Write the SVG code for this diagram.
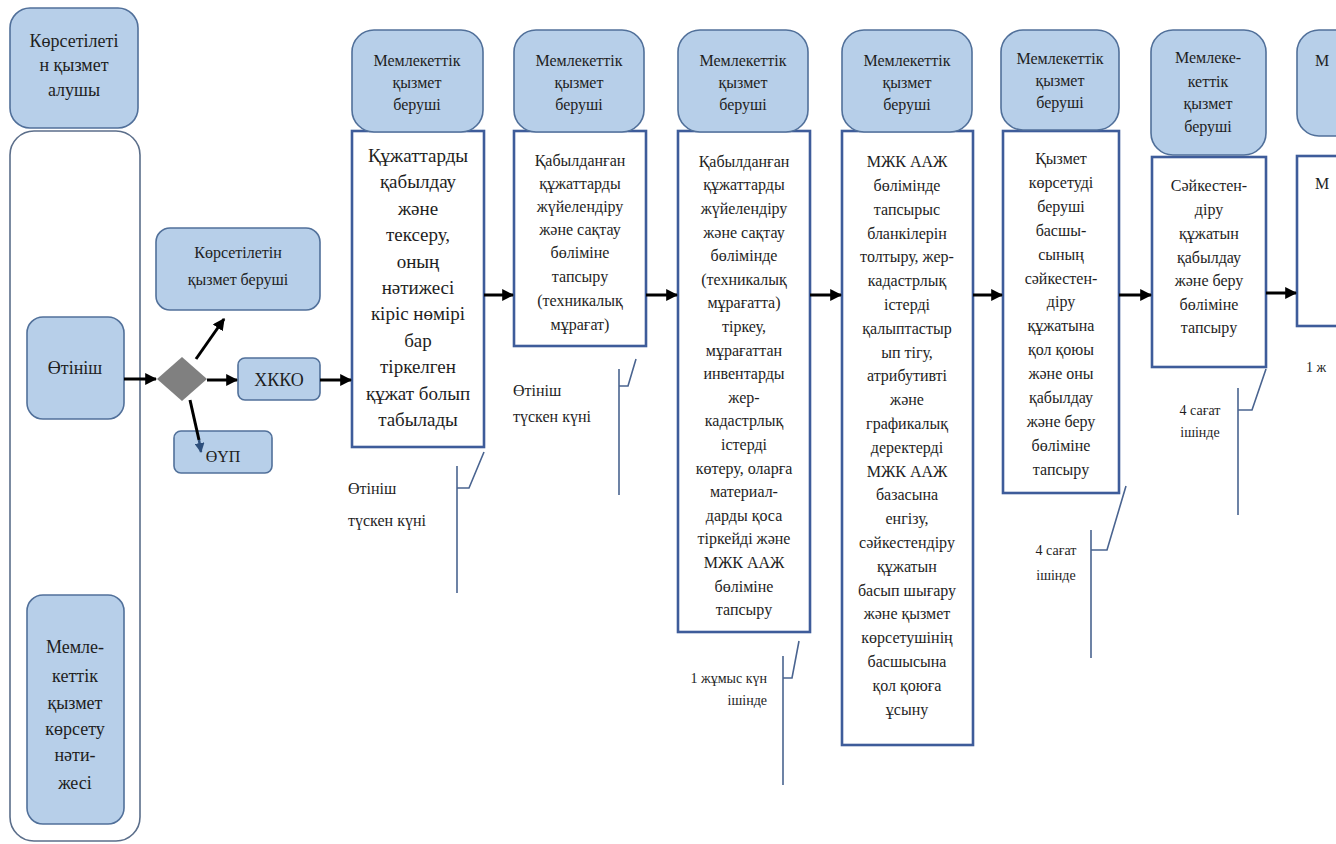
<svg xmlns="http://www.w3.org/2000/svg" width="1336" height="844" viewBox="0 0 1336 844">
  <defs>
    <marker id="arr" viewBox="0 0 10 10" refX="9" refY="5" markerWidth="4" markerHeight="4" orient="auto" markerUnits="strokeWidth">
      <path d="M0,0 L10,5 L0,10 z" fill="#000"/>
    </marker>
    <marker id="arrBlue" viewBox="0 0 10 10" refX="9" refY="5" markerWidth="4" markerHeight="4" orient="auto" markerUnits="strokeWidth">
      <path d="M0,0 L10,5 L0,10 z" fill="#2d4f7c"/>
    </marker>
    <style>
      text { font-family: "Liberation Serif", "DejaVu Serif", serif; fill: #1e1e1e; text-anchor: middle; }
      .pill { fill: #b7cfe9; stroke: #51709a; stroke-width: 1.6; }
      .lane { fill: #ffffff; stroke: #5b6e8a; stroke-width: 1.6; }
      .proc { fill: #ffffff; stroke: #3e5c9a; stroke-width: 2.6; }
      .hdr { font-size: 16px; }
      .lbl { font-size: 18px; }
      .big { font-size: 19px; }
      .body { font-size: 16px; }
      .note { font-size: 16px; text-anchor: start; }
      .small { font-size: 14px; }
      .flow { stroke: #000; stroke-width: 3; fill: none; marker-end: url(#arr); }
      .callout { stroke: #4a6490; stroke-width: 1.6; fill: none; }
    </style>
  </defs>

  <!-- service recipient lane -->
  <g id="lane-recipient">
    <rect class="lane" x="10" y="131" width="130" height="710" rx="24"/>
  </g>
  <g id="recipient-header">
    <rect class="pill" x="10" y="8" width="128" height="120" rx="20"/>
    <text class="lbl" x="74" y="47">Көрсетілеті</text>
    <text class="lbl" x="74" y="71">н қызмет</text>
    <text class="lbl" x="74" y="96">алушы</text>
  </g>
  <g id="application">
    <rect class="pill" x="27" y="317" width="97" height="102" rx="16"/>
    <text class="lbl" x="75" y="374">Өтініш</text>
  </g>
  <g id="result">
    <rect class="pill" x="27" y="595" width="97" height="229" rx="16"/>
    <text class="lbl" x="75" y="653">Мемле-</text>
    <text class="lbl" x="75" y="682">кеттік</text>
    <text class="lbl" x="75" y="709">қызмет</text>
    <text class="lbl" x="75" y="735">көрсету</text>
    <text class="lbl" x="75" y="761">нәти-</text>
    <text class="lbl" x="75" y="789">жесі</text>
  </g>

  <!-- branching -->
  <g id="decision">
    <polygon points="182,357 207,379 182,401 157,379" fill="#808080"/>
  </g>
  <g id="provider-box">
    <rect class="pill" x="156" y="228" width="164" height="82" rx="14"/>
    <text class="body" x="238" y="258">Көрсетілетін</text>
    <text class="body" x="238" y="285">қызмет беруші</text>
  </g>
  <g id="hkko">
    <rect class="pill" x="238" y="358" width="82" height="42" rx="7"/>
    <text class="lbl" x="279" y="386">ХККО</text>
  </g>
  <g id="oup">
    <rect class="pill" x="174" y="431" width="98" height="42" rx="7"/>
    <text class="body" x="223" y="462">ӨҮП</text>
  </g>

  <!-- step 1 -->
  <g id="step1">
    <rect class="proc" x="352" y="131" width="132" height="316"/>
    <rect class="pill" x="352" y="30" width="131" height="102" rx="22"/>
    <text class="hdr" x="417" y="66">Мемлекеттік</text>
    <text class="hdr" x="417" y="88">қызмет</text>
    <text class="hdr" x="417" y="110">беруші</text>
    <text class="big" x="418" y="162">Құжаттарды</text>
    <text class="big" x="418" y="188">қабылдау</text>
    <text class="big" x="418" y="215">және</text>
    <text class="big" x="418" y="241">тексеру,</text>
    <text class="big" x="418" y="268">оның</text>
    <text class="big" x="418" y="294">нәтижесі</text>
    <text class="big" x="418" y="320">кіріс нөмірі</text>
    <text class="big" x="418" y="347">бар</text>
    <text class="big" x="418" y="373">тіркелген</text>
    <text class="big" x="418" y="400">құжат болып</text>
    <text class="big" x="418" y="426">табылады</text>
  </g>

  <!-- step 2 -->
  <g id="step2">
    <rect class="proc" x="514" y="131" width="132" height="215"/>
    <rect class="pill" x="514" y="30" width="130" height="102" rx="22"/>
    <text class="hdr" x="579" y="66">Мемлекеттік</text>
    <text class="hdr" x="579" y="88">қызмет</text>
    <text class="hdr" x="579" y="110">беруші</text>
    <text class="body" x="580" y="166">Қабылданған</text>
    <text class="body" x="580" y="189">құжаттарды</text>
    <text class="body" x="580" y="212">жүйелендіру</text>
    <text class="body" x="580" y="235">және сақтау</text>
    <text class="body" x="580" y="258">бөліміне</text>
    <text class="body" x="580" y="282">тапсыру</text>
    <text class="body" x="580" y="306">(техникалық</text>
    <text class="body" x="580" y="330">мұрағат)</text>
  </g>

  <!-- step 3 -->
  <g id="step3">
    <rect class="proc" x="678" y="131" width="132" height="501"/>
    <rect class="pill" x="678" y="30" width="130" height="102" rx="22"/>
    <text class="hdr" x="743" y="66">Мемлекеттік</text>
    <text class="hdr" x="743" y="88">қызмет</text>
    <text class="hdr" x="743" y="110">беруші</text>
    <text class="body" x="744" y="167">Қабылданған</text>
    <text class="body" x="744" y="190">құжаттарды</text>
    <text class="body" x="744" y="214">жүйелендіру</text>
    <text class="body" x="744" y="238">және сақтау</text>
    <text class="body" x="744" y="261">бөлімінде</text>
    <text class="body" x="744" y="285">(техникалық</text>
    <text class="body" x="744" y="308">мұрағатта)</text>
    <text class="body" x="744" y="332">тіркеу,</text>
    <text class="body" x="744" y="356">мұрағаттан</text>
    <text class="body" x="744" y="379">инвентарды</text>
    <text class="body" x="744" y="403">жер-</text>
    <text class="body" x="744" y="426">кадастрлық</text>
    <text class="body" x="744" y="450">істерді</text>
    <text class="body" x="744" y="474">көтеру, оларға</text>
    <text class="body" x="744" y="497">материал-</text>
    <text class="body" x="744" y="521">дарды қоса</text>
    <text class="body" x="744" y="544">тіркейді және</text>
    <text class="body" x="744" y="568">МЖК ААЖ</text>
    <text class="body" x="744" y="592">бөліміне</text>
    <text class="body" x="744" y="615">тапсыру</text>
  </g>

  <!-- step 4 -->
  <g id="step4">
    <rect class="proc" x="842" y="131" width="131" height="614"/>
    <rect class="pill" x="842" y="30" width="130" height="102" rx="22"/>
    <text class="hdr" x="907" y="66">Мемлекеттік</text>
    <text class="hdr" x="907" y="88">қызмет</text>
    <text class="hdr" x="907" y="110">беруші</text>
    <text class="body" x="907" y="167">МЖК ААЖ</text>
    <text class="body" x="907" y="191">бөлімінде</text>
    <text class="body" x="907" y="215">тапсырыс</text>
    <text class="body" x="907" y="239">бланкілерін</text>
    <text class="body" x="907" y="262">толтыру, жер-</text>
    <text class="body" x="907" y="286">кадастрлық</text>
    <text class="body" x="907" y="310">істерді</text>
    <text class="body" x="907" y="334">қалыптастыр</text>
    <text class="body" x="907" y="358">ып тігу,</text>
    <text class="body" x="907" y="381">атрибутивті</text>
    <text class="body" x="907" y="405">және</text>
    <text class="body" x="907" y="429">графикалық</text>
    <text class="body" x="907" y="453">деректерді</text>
    <text class="body" x="907" y="477">МЖК ААЖ</text>
    <text class="body" x="907" y="500">базасына</text>
    <text class="body" x="907" y="524">енгізу,</text>
    <text class="body" x="907" y="548">сәйкестендіру</text>
    <text class="body" x="907" y="572">құжатын</text>
    <text class="body" x="907" y="596">басып шығару</text>
    <text class="body" x="907" y="619">және қызмет</text>
    <text class="body" x="907" y="643">көрсетушінің</text>
    <text class="body" x="907" y="667">басшысына</text>
    <text class="body" x="907" y="691">қол қоюға</text>
    <text class="body" x="907" y="715">ұсыну</text>
  </g>

  <!-- step 5 -->
  <g id="step5">
    <rect class="proc" x="1003" y="131" width="116" height="362"/>
    <rect class="pill" x="1001" y="30" width="118" height="100" rx="22"/>
    <text class="hdr" x="1060" y="64">Мемлекеттік</text>
    <text class="hdr" x="1060" y="86">қызмет</text>
    <text class="hdr" x="1060" y="108">беруші</text>
    <text class="body" x="1061" y="164">Қызмет</text>
    <text class="body" x="1061" y="188">көрсетуді</text>
    <text class="body" x="1061" y="212">беруші</text>
    <text class="body" x="1061" y="236">басшы-</text>
    <text class="body" x="1061" y="260">сының</text>
    <text class="body" x="1061" y="284">сәйкестен-</text>
    <text class="body" x="1061" y="307">діру</text>
    <text class="body" x="1061" y="331">құжатына</text>
    <text class="body" x="1061" y="355">қол қоюы</text>
    <text class="body" x="1061" y="379">және оны</text>
    <text class="body" x="1061" y="403">қабылдау</text>
    <text class="body" x="1061" y="427">және беру</text>
    <text class="body" x="1061" y="451">бөліміне</text>
    <text class="body" x="1061" y="475">тапсыру</text>
  </g>

  <!-- step 6 -->
  <g id="step6">
    <rect class="proc" x="1152" y="157" width="114" height="210"/>
    <rect class="pill" x="1151" y="30" width="115" height="125" rx="22"/>
    <text class="hdr" x="1208" y="63">Мемлеке-</text>
    <text class="hdr" x="1208" y="87">кеттік</text>
    <text class="hdr" x="1208" y="109">қызмет</text>
    <text class="hdr" x="1208" y="132">беруші</text>
    <text class="body" x="1209" y="191">Сәйкестен-</text>
    <text class="body" x="1209" y="215">діру</text>
    <text class="body" x="1209" y="239">құжатын</text>
    <text class="body" x="1209" y="263">қабылдау</text>
    <text class="body" x="1209" y="286">және беру</text>
    <text class="body" x="1209" y="310">бөліміне</text>
    <text class="body" x="1209" y="333">тапсыру</text>
  </g>

  <!-- step 7 (continues beyond the frame) -->
  <g id="step7">
    <rect class="proc" x="1297" y="156" width="80" height="170"/>
    <rect class="pill" x="1297" y="30" width="80" height="106" rx="22"/>
    <text class="hdr" x="1315" y="66" style="text-anchor:start">М</text>
    <text class="body" x="1315" y="189" style="text-anchor:start">М</text>
  </g>

  <!-- time notes -->
  <g id="note1">
    <text class="note" x="348" y="494">Өтініш</text>
    <text class="note" x="348" y="526">түскен күні</text>
  </g>
  <g id="note2">
    <text class="note" x="513" y="396">Өтініш</text>
    <text class="note" x="513" y="422">түскен күні</text>
  </g>
  <g id="note3">
    <text class="small" x="767" y="683" style="text-anchor:end">1 жұмыс күн</text>
    <text class="small" x="767" y="705" style="text-anchor:end">ішінде</text>
  </g>
  <g id="note5">
    <text class="small" x="1056" y="555">4 сағат</text>
    <text class="small" x="1056" y="580">ішінде</text>
  </g>
  <g id="note6">
    <text class="small" x="1200" y="415">4 сағат</text>
    <text class="small" x="1200" y="437">ішінде</text>
  </g>
  <g id="note7">
    <text class="small" x="1306" y="372" style="text-anchor:start">1 ж</text>
  </g>

  <!-- connectors -->
  <g id="connectors">
    <line class="flow" x1="124" y1="379" x2="156" y2="379"/>
    <line class="flow" x1="207" y1="380" x2="237" y2="380"/>
    <line class="flow" x1="196" y1="359" x2="224" y2="319"/>
    <line x1="190" y1="400" x2="199" y2="440" stroke="#000" stroke-width="3"/>
    <line x1="199" y1="440" x2="201" y2="452" stroke="#2d4f7c" stroke-width="2.5" marker-end="url(#arrBlue)"/>
    <line class="flow" x1="320" y1="380" x2="351" y2="380"/>
    <line class="flow" x1="484" y1="295" x2="513" y2="295"/>
    <line class="flow" x1="646" y1="295" x2="677" y2="295"/>
    <line class="flow" x1="810" y1="295" x2="841" y2="295"/>
    <line class="flow" x1="973" y1="295" x2="1002" y2="295"/>
    <line class="flow" x1="1119" y1="295" x2="1151" y2="295"/>
    <line class="flow" x1="1266" y1="293" x2="1296" y2="293"/>

    <path class="callout" d="M457,593 V466 M457,488 H469 L484,452"/>
    <path class="callout" d="M619,495 V369 M619,386 H628 L636,359"/>
    <path class="callout" d="M783,785 V656 M783,678 H792 L799,641"/>
    <path class="callout" d="M1091,658 V530 M1091,550 H1107 L1126,486"/>
    <path class="callout" d="M1238,515 V388 M1238,410 H1252 L1266,369"/>
  </g>
</svg>
